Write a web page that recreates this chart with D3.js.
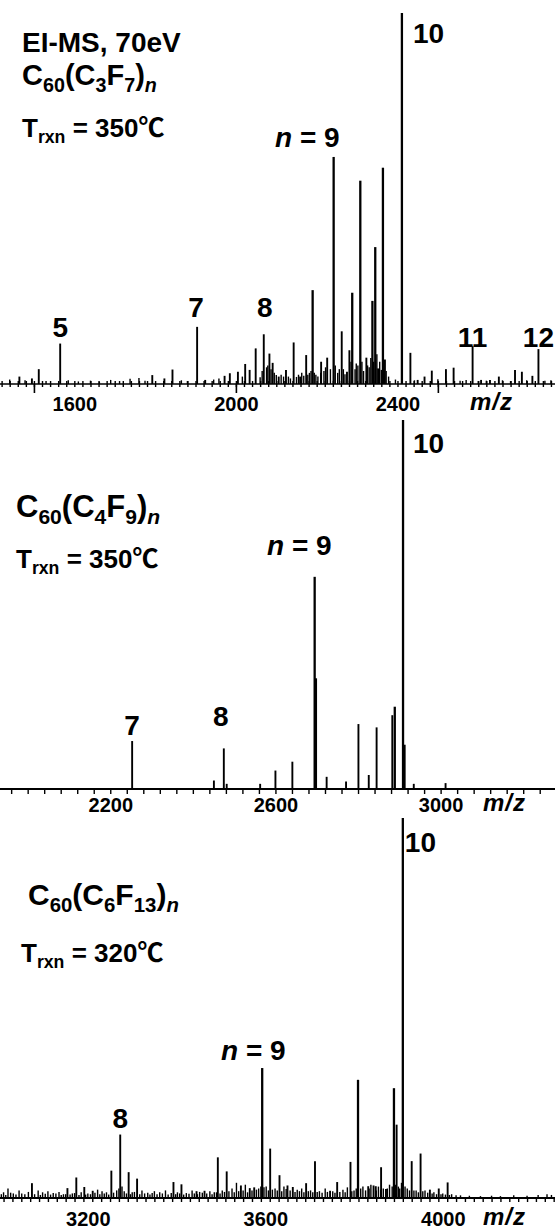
<!DOCTYPE html>
<html>
<head>
<meta charset="utf-8">
<script src="https://cdn.jsdelivr.net/npm/d3@7"></script>
<style>
  body { margin: 0; background: #fff; }
  svg { display: block; }
  text { font-family: "Liberation Sans", Arial, "Noto Sans CJK SC", sans-serif; font-weight: bold; fill: #000; }
</style>
</head>
<body>
<svg id="chart"></svg>
<script>
const width = 555;
const height = 1229;

// C60(C3F7)n spectrum, [m/z, relative intensity %]
const peaks1 = [[1464,2.0],[1495,1.5],[1512,4.0],[1565,10.9],[1793,2.4],[1823,1.5],[1843,3.9],[1904,15.4],
  [1924,1.1],[1972,2.2],[1985,2.9],[2005,3.3],[2023,5.4],[2034,3.8],[2049,9.6],[2069,13.4],[2083,8.2],
  [2091,5.7],[2106,2.0],[2124,3.8],[2143,11.2],[2159,2.0],[2174,7.8],[2190,25.3],[2211,6.0],[2226,7.1],
  [2242,61.2],[2262,14.2],[2275,3.3],[2281,9.1],[2288,24.6],[2308,54.8],[2323,7.1],[2338,22.4],[2345,36.9],
  [2352,4.2],[2364,58.3],[2369,6.6],[2411,100],[2432,8.4],[2450,1.1],[2467,2.0],[2485,3.6],[2520,4.0],
  [2539,4.4],[2586,10.2],[2607,1.1],[2629,1.1],[2651,2.0],[2691,3.8],[2708,3.3],[2734,2.2],[2749,9.4]];
const noise1 = [[1440,1.2],[1478,1.0],[1530,0.8],[1585,1.0],[1610,0.7],[1640,0.9],[1662,0.6],[1690,1.1],
  [1712,0.8],[1738,1.4],[1760,1.6],[1775,0.9],[1865,1.0],[1880,0.8],[1945,1.2],[1958,1.5],[2016,2.0],
  [2060,1.8],[2065,3.5],[2076,4.5],[2079,5.0],[2087,4.0],[2095,3.0],[2100,2.4],[2112,2.5],[2118,2.0],
  [2130,2.0],[2135,1.5],[2150,1.9],[2155,2.5],[2163,3.0],[2168,2.2],[2178,2.5],[2182,3.0],[2186,3.5],
  [2194,3.0],[2198,2.5],[2203,2.0],[2210,3.0],[2218,3.5],[2222,4.5],[2234,4.0],[2246,5.0],[2252,3.0],
  [2256,4.0],[2266,4.0],[2270,2.6],[2285,6.0],[2295,4.0],[2298,5.5],[2302,5.0],[2312,6.0],[2316,3.5],
  [2326,5.0],[2330,4.5],[2334,7.0],[2341,6.0],[2349,8.0],[2356,6.0],[2360,3.8],[2372,3.5],[2378,2.0],
  [2395,1.2],[2442,1.0],[2500,1.3],[2555,0.9],[2570,1.1],[2600,0.8],[2620,0.9],[2660,1.0],[2680,0.8],
  [2720,1.0],[2765,0.9],[2780,1.0]];
const ticks1 = [1600, 2000, 2400];

// C60(C4F9)n spectrum
const peaks2 = [[2253,13.0],[2451,2.3],[2475,11.0],[2482,1.4],[2563,1.4],[2600,5.0],[2641,7.4],[2695,57.5],
  [2698,30.0],[2724,3.3],[2771,2.0],[2801,17.6],[2826,3.8],[2845,16.7],[2883,20.0],[2889,22.3],
  [2909,100],[2913,12.0],[2935,1.4],[3012,1.6]];
const ticks2 = [2200, 2600, 3000];

// C60(C6F13)n spectrum
const peaks3 = [[3074,3.9],[3154,2.6],[3174,5.4],[3192,2.9],[3211,1.9],[3253,7.2],[3273,16.7],[3292,6.8],
  [3311,5.1],[3393,4.2],[3411,3.6],[3445,1.8],[3463,1.9],[3493,10.7],[3513,7.0],[3545,3.3],[3565,2.6],
  [3575,2.8],[3593,34.2],[3611,13.0],[3632,6.0],[3650,3.3],[3662,2.9],[3692,3.9],[3712,9.7],[3746,1.9],
  [3762,4.2],[3792,9.5],[3809,31.1],[3832,3.1],[3844,3.3],[3849,3.1],[3861,8.1],[3872,2.4],[3890,28.9],
  [3896,19.3],[3910,100],[3930,9.7],[3950,11.7],[3971,2.2],[3991,2.5],[4011,4.1]];
const noise3 = [[3005,1.0],[3010,1.5],[3015,0.8],[3020,2.5],[3026,1.4],[3032,1.2],[3038,0.9],[3045,2.0],
  [3051,1.2],[3058,1.0],[3066,1.6],[3080,1.0],[3088,2.0],[3093,0.8],[3098,1.5],[3104,1.1],[3110,1.8],
  [3116,0.9],[3122,1.3],[3128,1.2],[3135,1.6],[3140,0.8],[3145,1.0],[3150,1.0],[3160,0.9],[3165,1.2],
  [3170,1.3],[3180,0.8],[3185,1.5],[3195,0.9],[3200,1.2],[3206,1.0],[3216,1.4],[3222,2.2],[3227,1.0],
  [3232,1.8],[3237,1.2],[3242,1.5],[3247,0.9],[3258,1.4],[3265,2.0],[3270,2.5],[3277,3.0],[3282,1.8],
  [3287,1.2],[3296,1.0],[3300,1.5],[3305,1.6],[3317,1.0],[3322,2.0],[3328,1.2],[3335,1.4],[3340,0.9],
  [3345,1.3],[3350,1.8],[3356,1.0],[3362,1.5],[3368,1.2],[3375,2.0],[3381,0.9],[3388,1.3],[3398,1.0],
  [3402,1.5],[3407,1.2],[3416,0.9],[3422,1.3],[3428,1.1],[3435,2.0],[3440,1.2],[3447,1.0],[3452,1.6],
  [3458,1.4],[3468,1.2],[3475,1.8],[3480,1.0],[3485,1.5],[3490,1.5],[3498,1.2],[3503,2.0],[3508,1.6],
  [3518,1.8],[3525,2.5],[3530,1.5],[3535,4.0],[3540,1.8],[3550,2.0],[3555,3.5],[3560,1.5],[3570,2.0],
  [3580,2.2],[3585,2.5],[3590,3.0],[3597,2.8],[3602,3.0],[3607,2.0],[3616,2.2],[3622,2.5],[3627,2.0],
  [3637,1.8],[3642,3.0],[3647,2.4],[3656,2.0],[3667,1.6],[3672,2.2],[3677,1.8],[3682,2.5],[3687,1.5],
  [3697,1.8],[3702,2.0],[3707,1.5],[3717,1.6],[3722,1.8],[3728,1.4],[3735,2.5],[3740,1.6],[3752,1.8],
  [3757,1.4],[3768,1.6],[3775,2.2],[3780,1.5],[3785,2.8],[3795,1.8],[3800,2.0],[3805,2.5],[3815,2.5],
  [3820,3.0],[3826,2.0],[3834,2.5],[3838,3.5],[3850,2.0],[3855,3.0],[3860,2.2],[3866,2.5],[3875,2.5],
  [3880,3.5],[3886,3.0],[3893,3.5],[3900,3.0],[3903,2.5],[3907,4.0],[3915,3.0],[3920,2.5],[3925,2.0],
  [3935,2.0],[3940,2.0],[3945,1.5],[3955,1.8],[3960,2.0],[3966,1.4],[3976,1.2],[3980,1.5],[3986,1.0],
  [3996,1.0],[4000,1.2],[4006,0.9],[4015,0.8],[4020,1.0],[4030,0.7],[4040,0.7],[4060,0.6],[4085,0.5],
  [4110,0.6],[4130,0.5],[4160,0.7],[4190,0.6],[4215,0.8],[4235,1.0],[4245,0.8]];
const ticks3 = [3200, 3600, 4000];

const svg = d3.select('#chart')
  .attr('width', width)
  .attr('height', height)
  .attr('viewBox', `0 0 ${width} ${height}`);

// subscripted text, parts = [{t, sub, it}]
function rich(x, y, size, parts) {
  const t = svg.append('text').attr('x', x).attr('y', y).attr('font-size', size);
  let sub = false;
  parts.forEach(p => {
    const s = t.append('tspan').text(p.t);
    if (p.sub) s.attr('font-size', size * 0.68);
    if (!!p.sub !== sub) s.attr('dy', p.sub ? size * 0.24 : -size * 0.24);
    sub = !!p.sub;
    if (p.it) s.attr('font-style', 'italic');
  });
  return t;
}

function formula(x, y, size, a, b) {
  return rich(x, y, size, [{t: 'C'}, {t: '60', sub: true}, {t: '(C'}, {t: a, sub: true}, {t: 'F'},
    {t: b, sub: true}, {t: ')'}, {t: 'n', sub: true, it: true}]);
}

function temp(x, y, val) {
  return rich(x, y, 26, [{t: 'T'}, {t: 'rxn', sub: true}, {t: ' = ' + val + '℃'}]);
}

function label(x, y, txt, anchor) {
  svg.append('text').attr('x', x).attr('y', y).attr('font-size', 28)
    .attr('text-anchor', anchor || 'middle').text(txt);
}

function nLabel(x, y) {
  const t = svg.append('text').attr('x', x).attr('y', y).attr('font-size', 28);
  t.append('tspan').attr('font-style', 'italic').text('n');
  t.append('tspan').text(' = 9');
}

function panel(cfg) {
  const x = d3.scaleLinear().domain(cfg.domain).range([0, width]);
  const y = d3.scaleLinear().domain([0, 100]).range([cfg.base, cfg.top]);
  const g = svg.append('g');

  // small ticks crossing the baseline
  g.append('g')
    .attr('transform', `translate(0,${cfg.base - cfg.tickUp})`)
    .call(d3.axisBottom(x).tickValues(cfg.minor).tickSize(cfg.tickLen).tickSizeOuter(0).tickFormat(''))
    .call(a => a.select('.domain').remove())
    .call(a => a.selectAll('line').attr('stroke', '#000').attr('stroke-width', 1.4));

  if (cfg.major) {
    g.append('g')
      .attr('transform', `translate(0,${cfg.base})`)
      .call(d3.axisBottom(x).tickValues(cfg.major).tickSize(9).tickSizeOuter(0).tickFormat(''))
      .call(a => a.select('.domain').remove())
      .call(a => a.selectAll('line').attr('stroke', '#000').attr('stroke-width', 1.6));
  }

  // baseline
  g.append('line')
    .attr('x1', 0).attr('x2', width)
    .attr('y1', cfg.base).attr('y2', cfg.base)
    .attr('stroke', '#000').attr('stroke-width', cfg.baseWidth);

  // tick labels
  g.append('g')
    .attr('transform', `translate(0,${cfg.base})`)
    .call(d3.axisBottom(x).tickValues(cfg.ticks).tickSize(0).tickFormat(d3.format('d')))
    .call(a => a.select('.domain').remove())
    .attr('font-family', null).attr('font-size', 20).attr('font-weight', 'bold')
    .call(a => a.selectAll('text').attr('y', cfg.labelDy).attr('dy', null).attr('fill', '#000'));

  g.append('text').attr('x', cfg.mzX).attr('y', cfg.base + cfg.labelDy - 1)
    .attr('font-size', 24).attr('font-style', 'italic').attr('letter-spacing', 1)
    .text('m/z');

  g.append('g').selectAll('line')
    .data(cfg.noise || [])
    .join('line')
    .attr('x1', d => x(d[0])).attr('x2', d => x(d[0]))
    .attr('y1', cfg.base).attr('y2', d => y(d[1]))
    .attr('stroke', '#000').attr('stroke-width', 1.4);

  g.append('g').selectAll('line')
    .data(cfg.peaks)
    .join('line')
    .attr('x1', d => x(d[0])).attr('x2', d => x(d[0]))
    .attr('y1', cfg.base).attr('y2', d => y(d[1]))
    .attr('stroke', '#000').attr('stroke-width', d => d[1] > 20 ? 2.3 : 1.9);

  return x;
}

// panel 1
const x1 = panel({
  domain: [1416, 2790], base: 384, top: 13, peaks: peaks1, noise: noise1, ticks: ticks1,
  minor: d3.range(1420, 2790, 20), major: [1500, 2000, 2500], tickUp: 3, tickLen: 6,
  baseWidth: 1.6, labelDy: 27, mzX: 470
});
svg.append('text').attr('x', 22).attr('y', 52).attr('font-size', 28).text('EI-MS, 70eV');
formula(22, 85, 29, '3', '7');
temp(22, 137, '350');
label(x1(2411) + 11, 43, '10', 'start');
nLabel(275, 147);
label(x1(1565), 337, '5');
label(x1(1904) - 1, 317, '7');
label(x1(2069) + 1, 317, '8');
label(x1(2586), 347, '11');
label(x1(2749), 347, '12');

// panel 2
const x2 = panel({
  domain: [1933, 3277], base: 789, top: 420, peaks: peaks2, ticks: ticks2,
  minor: d3.range(1960, 3277, 40), tickUp: 0, tickLen: 5,
  baseWidth: 2, labelDy: 23, mzX: 483
});
formula(16, 517, 31, '4', '9');
temp(16, 568, '350');
label(x2(2909) + 10, 453, '10', 'start');
nLabel(267, 555);
label(x2(2253), 735, '7');
label(x2(2475) - 3, 726, '8');

// panel 3
const x3 = panel({
  domain: [3002, 4253], base: 1198, top: 818, peaks: peaks3, noise: noise3, ticks: ticks3,
  minor: d3.range(3010, 4253, 20), tickUp: 1, tickLen: 5,
  baseWidth: 2, labelDy: 28, mzX: 483
});
formula(28, 905, 30, '6', '13');
temp(21, 962, '320');
label(x3(3910) + 2, 852, '10', 'start');
nLabel(221, 1060);
label(x3(3273), 1128, '8');
</script>
</body>
</html>
